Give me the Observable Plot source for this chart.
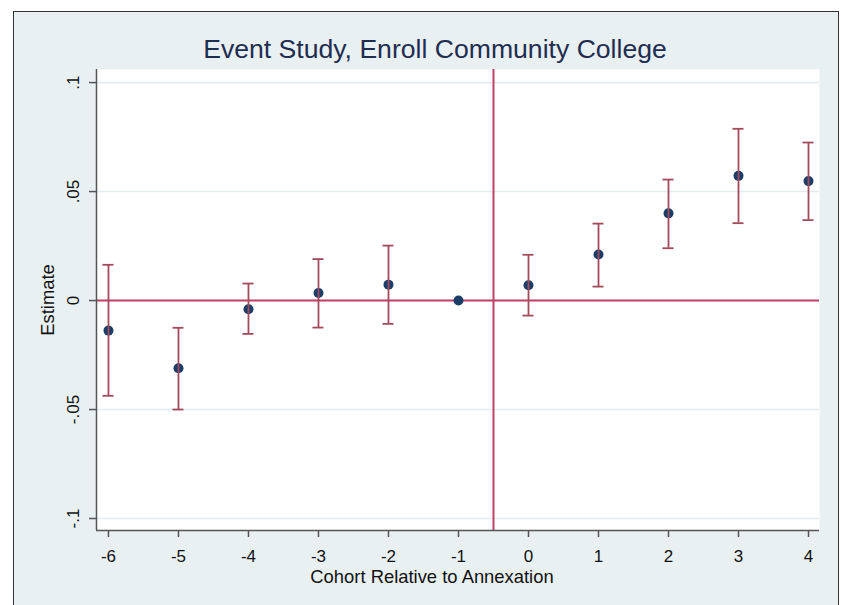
<!DOCTYPE html>
<html>
<head>
<meta charset="utf-8">
<script src="https://cdn.jsdelivr.net/npm/d3@7"></script>
<script src="https://cdn.jsdelivr.net/npm/@observablehq/plot@0.6"></script>
<style>
  html, body { margin: 0; padding: 0; background: #ffffff; }
  #page { position: relative; width: 843px; height: 605px; overflow: hidden; background: #ffffff; font-family: "Liberation Sans", Arial, sans-serif; }
  #frame { position: absolute; left: 13px; top: 11px; width: 824px; height: 600px; background: #e8f0f2; border: 1.5px solid #333; }
  #chart { position: absolute; left: 0; top: 0; }
  .t { position: absolute; white-space: nowrap; line-height: 1; }
  #title { left: 435px; top: 36px; transform: translateX(-50%); font-size: 26.6px; color: #1f2d50; }
  #xlabel { left: 432px; top: 567.5px; transform: translateX(-50%); font-size: 18.4px; color: #111; }
  #ylabel { left: 48px; top: 300px; transform: translate(-50%, -50%) rotate(-90deg); font-size: 18.4px; color: #111; }
</style>
</head>
<body>
<div id="page">
  <div id="frame"></div>
  <div id="chart"></div>
  <div class="t" id="title">Event Study, Enroll Community College</div>
  <div class="t" id="xlabel">Cohort Relative to Annexation</div>
  <div class="t" id="ylabel">Estimate</div>
</div>
<script>
// Data
const cohorts   = [-6, -5, -4, -3, -2, -1, 0, 1, 2, 3, 4];
const estimates = [-0.0138, -0.0311, -0.0040, 0.0035, 0.0073, 0, 0.0070, 0.0211, 0.0400, 0.0572, 0.0548];
const ciLow     = [-0.0437, -0.0500, -0.0153, -0.0124, -0.0107, null, -0.0069, 0.0064, 0.0240, 0.0355, 0.0369];
const ciHigh    = [0.0164, -0.0125, 0.0078, 0.0190, 0.0252, null, 0.0210, 0.0353, 0.0555, 0.0788, 0.0725];
const xTicks    = [-6, -5, -4, -3, -2, -1, 0, 1, 2, 3, 4];
const yTicks    = [-0.1, -0.05, 0, 0.05, 0.1];
const yTickLabels = ["-.1", "-.05", "0", ".05", ".1"];
const eventLine = [-0.5];
const zeroLine  = [0];

const rows = cohorts.map((c, i) => ({x: c, est: estimates[i], lo: ciLow[i], hi: ciHigh[i]}));
const ciRows = rows.filter(d => d.lo != null && d.hi != null);
const xDomain = [-6.171, 4.157];
const yDomain = [-0.1055, 0.106];

const chart = Plot.plot({
  width: 843,
  height: 605,
  marginLeft: 96,
  marginRight: 24,
  marginTop: 69,
  marginBottom: 75,
  style: {background: "transparent", fontFamily: "'Liberation Sans', Arial, sans-serif", color: "#111"},
  x: {domain: xDomain},
  y: {domain: yDomain},
  marks: [
    Plot.frame({fill: "white", stroke: null}),
    Plot.gridY(yTicks, {stroke: "#e3ecef", strokeOpacity: 1, strokeWidth: 1.6}),
    Plot.ruleY(zeroLine, {stroke: "#c23f66", strokeWidth: 2}),
    Plot.ruleX(eventLine, {stroke: "#c23f66", strokeWidth: 2}),
    Plot.dot(rows, {x: "x", y: "est", r: 5, fill: "#1b3e69", stroke: null}),
    Plot.ruleX(ciRows, {x: "x", y1: "lo", y2: "hi", stroke: "#a34a5c", strokeWidth: 1.8}),
    Plot.ruleY(ciRows, {x1: "x", x2: "x", y: "lo", stroke: "#a34a5c", strokeWidth: 1.8, insetLeft: -5.5, insetRight: -5.5}),
    Plot.ruleY(ciRows, {x1: "x", x2: "x", y: "hi", stroke: "#a34a5c", strokeWidth: 1.8, insetLeft: -5.5, insetRight: -5.5}),
    Plot.ruleX([xDomain[0]], {stroke: "#555", strokeWidth: 1.5}),
    Plot.ruleY([yDomain[0]], {stroke: "#555", strokeWidth: 1.5}),
    Plot.axisX({ticks: xTicks, tickFormat: d => String(d), tickSize: 7, tickPadding: 12, fontSize: 17, label: null, stroke: "#555", strokeWidth: 1.5}),
    Plot.axisY({ticks: yTicks, tickFormat: d => yTickLabels[yTicks.indexOf(d)], tickSize: 7, tickPadding: 11, fontSize: 17, tickRotate: -90, textAnchor: "middle", lineAnchor: "bottom", label: null, stroke: "#555", strokeWidth: 1.5})
  ]
});
document.getElementById("chart").appendChild(chart);
</script>
</body>
</html>
